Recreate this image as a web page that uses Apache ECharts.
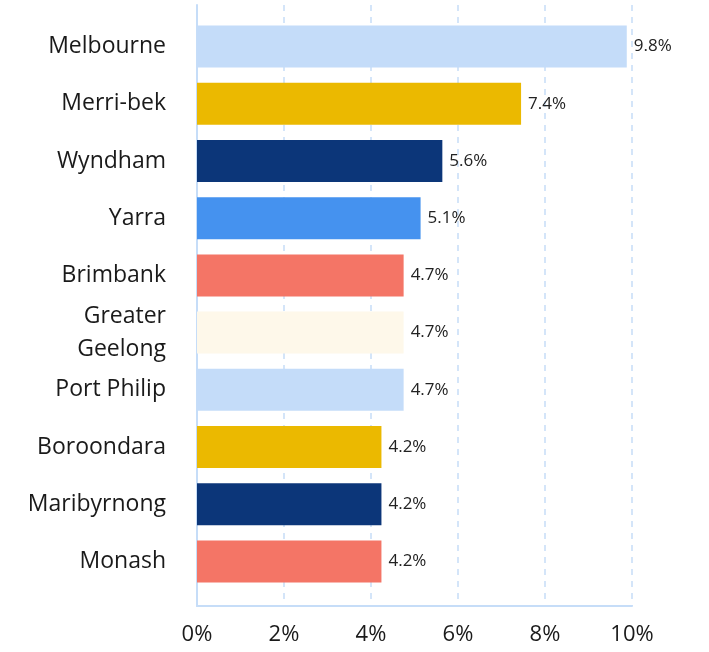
<!DOCTYPE html>
<html lang="en">
<head>
    <meta charset="UTF-8">
    <title>Council share</title>
    <script src="https://cdn.jsdelivr.net/npm/echarts@6/dist/echarts.min.js"></script>
    <style>
        html, body { margin: 0; padding: 0; background: #fff; }
        #main { width: 709px; height: 652px; }
    </style>
</head>
<body>
<div id="main"></div>
<script>
var councils = ['Melbourne', 'Merri-bek', 'Wyndham', 'Yarra', 'Brimbank', 'Greater Geelong',
    'Port Philip', 'Boroondara', 'Maribyrnong', 'Monash'];
// bar lengths; labels show them truncated to one decimal
var shares = [9.88, 7.45, 5.64, 5.14, 4.75, 4.75, 4.75, 4.24, 4.24, 4.24];
var barColors = ['#c4dcf9', '#ebb900', '#0c3679', '#4592ef', '#f47566', '#fef8ea',
    '#c4dcf9', '#ebb900', '#0c3679', '#f47566'];

var lineBlue = '#c6ddf8';
var font = '"Open Sans", Lato, sans-serif';

var myChart = echarts.init(document.getElementById('main'));

myChart.setOption({
    animation: false,
    grid: [
        // bars
        { left: 197, right: 77, top: 18, height: 572, containLabel: false },
        // frame: axis lines + dashed grid
        { left: 197, right: 77, top: 5, height: 601, containLabel: false }
    ],
    xAxis: [
        { gridIndex: 0, type: 'value', min: 0, max: 10, show: false },
        {
            gridIndex: 1, type: 'value', min: 0, max: 10, interval: 2,
            axisLine: { show: true, lineStyle: { color: lineBlue, width: 2 } },
            axisTick: { show: false },
            splitLine: { show: true, lineStyle: { color: lineBlue, type: [6, 6], width: 1.5 } },
            axisLabel: {
                margin: 18, fontSize: 22, color: '#1a1a1a', fontFamily: font,
                formatter: function (v) { return v + '%'; }
            }
        }
    ],
    yAxis: [
        {
            gridIndex: 0, type: 'category', data: councils, inverse: true,
            axisLine: { show: false }, axisTick: { show: false },
            axisLabel: {
                margin: 31, fontSize: 23, color: '#1a1a1a', fontFamily: font, lineHeight: 33,
                formatter: function (v) { return v === 'Greater Geelong' ? 'Greater\nGeelong' : v; }
            }
        },
        {
            gridIndex: 1, type: 'value', min: 0, max: 1,
            axisLine: { show: true, lineStyle: { color: lineBlue, width: 2 } },
            axisTick: { show: false }, axisLabel: { show: false }, splitLine: { show: false }
        }
    ],
    series: [{
        type: 'bar',
        xAxisIndex: 0,
        yAxisIndex: 0,
        barWidth: 42,
        z: 3,
        data: shares.map(function (v, i) {
            return { value: v, itemStyle: { color: barColors[i] } };
        }),
        label: {
            show: true, position: 'right', distance: 7,
            fontSize: 17, color: '#222', fontFamily: font,
            formatter: function (p) { return (Math.floor(p.value * 10) / 10).toFixed(1) + '%'; }
        }
    }]
});
</script>
</body>
</html>
